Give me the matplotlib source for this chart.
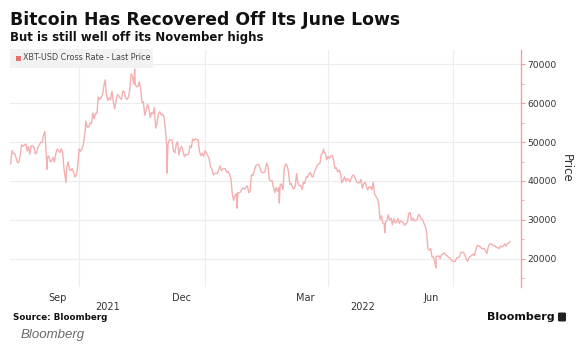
import matplotlib

matplotlib.use("Agg")

import matplotlib.pyplot as plt
import matplotlib.transforms as mtransforms
from matplotlib.patches import Rectangle, FancyBboxPatch
import numpy as np
import pandas as pd

# daily closing prices, one list per month
aug_2021 = [44400, 47800, 47100, 47000, 45900, 44700, 44800, 46700, 49300, 48900,
            49300, 49500, 47700, 48900, 46900, 49100, 48900, 48800, 47000, 47200]  # from Aug 12
sep_2021 = [48800, 49300, 50000, 49900, 51800, 52700, 46900, 46100, 46400, 44900,
            45200, 46100, 44900, 47100, 48200, 47800, 47300, 48300, 47300, 43000,
            40700, 43600, 44900, 42800, 42700, 43200, 42200, 41000, 41500, 43800]
oct_2021 = [48200, 47600, 48200, 49100, 51500, 55400, 53800, 53900, 54900, 54700,
            57500, 56000, 57400, 57300, 61600, 60900, 61500, 62000, 64300, 66000,
            62200, 60700, 61400, 60900, 63100, 60400, 58500, 60600, 62200, 61900, 61300]
nov_2021 = [61000, 63200, 62900, 61400, 61000, 61500, 63300, 67600, 66900, 64900,
            64900, 64200, 64400, 65500, 63600, 60100, 60400, 56900, 58100, 59700,
            58700, 56300, 57600, 57200, 58900, 53600, 54800, 57300, 57800, 57000]
dec_2021 = [57200, 56500, 53600, 49200, 49400, 50600, 50600, 50500, 47700, 47200,
            49400, 50100, 46700, 48400, 48900, 47600, 46200, 46800, 46700, 46900,
            49000, 48600, 50800, 50400, 50800, 50600, 50600, 47600, 46500, 47100, 46300]
jan_2022 = [47700, 47300, 46500, 45900, 43600, 43100, 41600, 41900, 42000, 41900,
            42800, 43900, 42600, 43100, 43200, 43100, 42200, 42400, 41700, 40700,
            36500, 35000, 36300, 36700, 37000, 36900, 37200, 37800, 38200, 37900, 38500]
feb_2022 = [38700, 37000, 37300, 41600, 41400, 42400, 43800, 44100, 44300, 43600,
            42400, 42200, 42100, 42600, 44600, 43900, 40500, 40000, 40100, 38400,
            37000, 38300, 37300, 38300, 39200, 39100, 37700, 43200]
mar_2022 = [44400, 44000, 42500, 39100, 39400, 38400, 37900, 38700, 41900, 39400,
            38800, 38800, 37800, 39700, 39300, 41100, 40900, 41800, 42200, 41200,
            41000, 42400, 43000, 44000, 44400, 44500, 46800, 47100, 47500, 47100, 45500]
apr_2022 = [46300, 45800, 46400, 46600, 45500, 43200, 43400, 42300, 42800, 42200,
            39500, 40100, 41100, 39900, 40600, 40400, 39700, 40800, 41500, 41400,
            40500, 39700, 39500, 39500, 40400, 38100, 39200, 39700, 38600, 37700]
may_2022 = [38500, 38500, 37700, 39700, 36600, 36000, 35500, 34100, 30100, 31000,
            29100, 29000, 29300, 29900, 31300, 29900, 30400, 28700, 30300, 29200,
            29400, 30300, 29100, 29700, 29500, 29200, 28600, 29000, 29400, 31700, 31800]
jun_2022 = [29800, 30400, 29700, 29900, 29900, 31400, 31100, 30200, 30100, 29100,
            28400, 26800, 22500, 22200, 22600, 20400, 20500, 19000, 20600, 20600,
            20700, 20000, 21100, 21200, 21500, 21000, 20700, 20300, 20100, 19800]
jul_2022 = [19300, 19300, 19300, 20200, 20200, 20500, 21600, 21600, 21600, 20900,
            19900, 19300, 20200, 20600, 20800, 21200, 20800, 22400, 23400, 23200,
            23200, 22700, 22500, 22600, 22000, 21300, 22900, 23800, 23800, 23600, 23300]
aug_2022 = [23300, 22900, 22800, 22600, 23300, 23000, 23200, 23800, 23200, 23900,
            24000, 24400]

# intraday extremes visible as spikes
spike_dates = ["2021-09-07 14:00", "2021-09-21 10:00", "2021-11-10 15:00", "2021-12-04 06:00",
               "2022-01-24 12:00", "2022-02-24 08:00", "2022-03-28 16:00", "2022-05-12 10:00",
               "2022-06-18 20:00"]
spike_values = [43000, 39600, 68800, 42000, 33000, 34300, 48200, 26700, 17600]

closes = (aug_2021 + sep_2021 + oct_2021 + nov_2021 + dec_2021 + jan_2022 + feb_2022
          + mar_2022 + apr_2022 + may_2022 + jun_2022 + jul_2022 + aug_2022)
dates = pd.date_range("2021-08-12", periods=len(closes), freq="D")
series = pd.concat([
    pd.Series(closes, index=dates),
    pd.Series(spike_values, index=pd.to_datetime(spike_dates)),
]).sort_index()

month_labels = ["Sep", "Dec", "Mar", "Jun"]
month_label_dates = pd.to_datetime(["2021-09-15", "2021-12-15", "2022-03-15", "2022-06-15"])
grid_dates = pd.to_datetime(["2021-10-01", "2022-01-01", "2022-04-01", "2022-07-01"])
y_ticks = [20000, 30000, 40000, 50000, 60000, 70000]

x_start = pd.Timestamp("2021-08-11 12:00")
x_end = pd.Timestamp("2022-08-20")

line_color = "#f3b0b0"
spine_color = "#f0a0a0"
text_color = "#333333"

fig = plt.figure(figsize=(5.81, 3.6), dpi=100)
ax = fig.add_axes([10 / 581, 1 - 287 / 360, 511 / 581, 237 / 360])

ax.plot(series.index, series.values, color=line_color, lw=1.0, zorder=3)

ax.set_xlim(x_start, x_end)
ax.set_ylim(12700, 73700)

ax.yaxis.tick_right()
ax.yaxis.set_label_position("right")
ax.set_yticks(y_ticks)
ax.set_yticks(np.arange(15000, 73000, 5000), minor=True)
ax.tick_params(axis="y", which="major", length=3, color=spine_color, labelsize=6.6,
               labelcolor=text_color, pad=1.5)
ax.tick_params(axis="y", which="minor", length=2, color=spine_color)
ax.set_ylabel("Price", rotation=270, labelpad=12, fontsize=8.5, color=text_color)

for y in y_ticks:
    ax.axhline(y, color="#ececec", lw=0.8, zorder=1)
for d in grid_dates:
    ax.axvline(d, color="#ececec", lw=0.8, zorder=1)

ax.set_xticks(month_label_dates)
ax.set_xticklabels(month_labels)
ax.tick_params(axis="x", length=0, labelsize=7, labelcolor=text_color, pad=4)

year_tr = mtransforms.blended_transform_factory(ax.transData, ax.transAxes)
year_mid_2021 = x_start + (pd.Timestamp("2022-01-01") - x_start) / 2
year_mid_2022 = pd.Timestamp("2022-01-01") + (x_end - pd.Timestamp("2022-01-01")) / 2
ax.text(year_mid_2021, -0.085, "2021", transform=year_tr, ha="center", va="center",
        fontsize=7, color=text_color)
ax.text(year_mid_2022, -0.085, "2022", transform=year_tr, ha="center", va="center",
        fontsize=7, color=text_color)

for side in ["left", "top", "bottom"]:
    ax.spines[side].set_visible(False)
ax.spines["right"].set_color(spine_color)
ax.spines["right"].set_linewidth(1.0)

# legend box
fig.patches.append(Rectangle((10 / 581, 1 - 68 / 360), 143 / 581, 19 / 360,
                             transform=fig.transFigure, facecolor="#f2f2f2",
                             edgecolor="none", zorder=5))
fig.patches.append(Rectangle((16 / 581, 1 - 60.5 / 360), 5 / 581, 5 / 360,
                             transform=fig.transFigure, facecolor="#e8706f",
                             edgecolor="none", zorder=6))
fig.text(23 / 581, 1 - 58 / 360, "XBT-USD Cross Rate - Last Price", fontsize=5.8,
         color="#444444", va="center", ha="left", zorder=7)

fig.text(10 / 581, 1 - 20 / 360, "Bitcoin Has Recovered Off Its June Lows",
         fontsize=12.4, fontweight="bold", color="#111111", va="center", ha="left")
fig.text(10 / 581, 1 - 38 / 360, "But is still well off its November highs",
         fontsize=8.5, fontweight="bold", color="#111111", va="center", ha="left")

fig.text(13 / 581, 1 - 318 / 360, "Source: Bloomberg", fontsize=6.3, fontweight="bold",
         color="#111111", va="center", ha="left")
fig.text(21 / 581, 1 - 335 / 360, "Bloomberg", fontsize=9.5, style="italic",
         family="Liberation Sans", color="#6a6a6a", va="center", ha="left")

fig.text(555 / 581, 1 - 317 / 360, "Bloomberg", fontsize=8, fontweight="bold",
         color="#111111", va="center", ha="right")
fig.patches.append(FancyBboxPatch((558 / 581, 1 - 321.5 / 360), 8 / 581, 9 / 360,
                                  boxstyle="round,pad=0,rounding_size=0.003",
                                  transform=fig.transFigure, facecolor="#222222",
                                  edgecolor="none"))

fig.savefig("out.png", dpi=100)
